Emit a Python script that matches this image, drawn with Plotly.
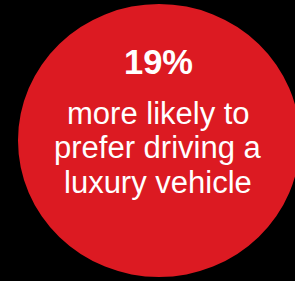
import plotly.graph_objects as go

# Content
stat_value = "19%"
stat_lines = ["more likely to", "prefer driving a", "luxury vehicle"]

# Style
bg_color = "#000000"
circle_color = "#DC1A22"
text_color = "#FFFFFF"
font_family = "Arial, Liberation Sans, sans-serif"

W, H = 295, 281

fig = go.Figure()

# invisible trace to set up axes
fig.add_trace(go.Scatter(x=[0, W], y=[0, H], mode="markers",
                         marker=dict(opacity=0), hoverinfo="skip", showlegend=False))

fig.add_shape(type="circle", xref="x", yref="y",
              x0=18, x1=300, y0=4, y1=277,
              fillcolor=circle_color, line=dict(width=0), layer="below")

fig.add_annotation(x=158.5, y=62, xref="x", yref="y", text="<b>%s</b>" % stat_value,
                   showarrow=False, font=dict(family=font_family, size=34.5, color=text_color))

line_y = [113, 147.5, 182]
for txt, yy in zip(stat_lines, line_y):
    fig.add_annotation(x=158, y=yy, xref="x", yref="y", text=txt, showarrow=False,
                       font=dict(family=font_family, size=31, color=text_color))

fig.update_xaxes(range=[0, W], visible=False, fixedrange=True)
fig.update_yaxes(range=[H, 0], visible=False, fixedrange=True)
fig.update_layout(width=W, height=H, margin=dict(l=0, r=0, t=0, b=0),
                  paper_bgcolor=bg_color, plot_bgcolor=bg_color, showlegend=False)

fig.write_html("out.html", config={"displayModeBar": False},
               post_script="document.body.style.margin='0';document.body.style.background='black';")
